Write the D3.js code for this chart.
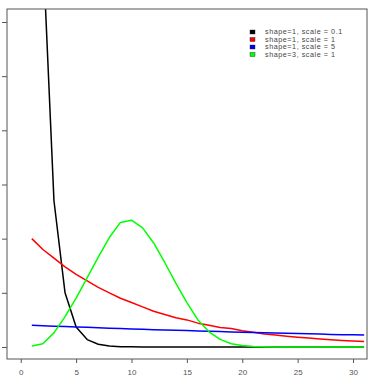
<!DOCTYPE html>
<html>
<head>
<meta charset="utf-8">
<script src="https://cdn.jsdelivr.net/npm/d3@7"></script>
<style>
    body { margin: 0; background: #fff; }
    svg { display: block; font-family: "Liberation Sans", Arial, sans-serif; }
</style>
</head>
<body>
<svg width="371" height="384"></svg>
<script>
// x positions of the evaluated points
var xs = d3.range(1, 32);

// values, one per x
var blackVals = [1.0, 0.368, 0.135, 0.050, 0.0184, 0.0068, 0.0025, 0.0009, 0.0003, 0.0001, 0.00005,
    0, 0, 0, 0, 0, 0, 0, 0, 0, 0, 0, 0, 0, 0, 0, 0, 0, 0, 0, 0];
var redVals = [0.100, 0.090, 0.082, 0.074, 0.067, 0.061, 0.055, 0.050, 0.045, 0.041, 0.037,
    0.033, 0.030, 0.027, 0.025, 0.022, 0.020, 0.018, 0.017, 0.015, 0.0135, 0.012, 0.011,
    0.010, 0.009, 0.0082, 0.0074, 0.0067, 0.006, 0.0055, 0.005];
var blueVals = [0.0200, 0.0196, 0.0192, 0.0188, 0.0185, 0.0181, 0.0177, 0.0174, 0.0170, 0.0167,
    0.0164, 0.0160, 0.0157, 0.0154, 0.0151, 0.0148, 0.0145, 0.0142, 0.0139, 0.0137, 0.0134,
    0.0131, 0.0129, 0.0126, 0.0124, 0.0121, 0.0119, 0.0116, 0.0114, 0.0112, 0.0110];
var greenVals = [0.001, 0.003, 0.013, 0.028, 0.045, 0.064, 0.083, 0.101, 0.115, 0.117, 0.110,
    0.096, 0.078, 0.059, 0.041, 0.025, 0.014, 0.007, 0.003, 0.0013, 0.0005, 0.0002,
    0, 0, 0, 0, 0, 0, 0, 0, 0];

var seriesNames = ["shape=1, scale = 0.1", "shape=1, scale = 1", "shape=1, scale = 5", "shape=3, scale = 1"];
var seriesColors = ["#000000", "#ff0000", "#0000ff", "#00ff00"];
var seriesVals = [blackVals, redVals, blueVals, greenVals];

var xTicks = [0, 5, 10, 15, 20, 25, 30];
var yTicks = [0, 0.05, 0.10, 0.15, 0.20, 0.25, 0.30];

var svg = d3.select("svg");

// plot box
var box = {left: 7, right: 367, top: 9, bottom: 359};

var x = d3.scaleLinear().domain([-1.24, 31.26]).range([box.left, box.right]);
var y = d3.scaleLinear().domain([-0.0111, 0.312]).range([box.bottom, box.top]);

svg.append("clipPath").attr("id", "clip")
    .append("rect")
    .attr("x", box.left).attr("y", box.top)
    .attr("width", box.right - box.left).attr("height", box.bottom - box.top);

//draw the lines
var line = d3.line()
    .x(function (d, i) { return x(xs[i]); })
    .y(function (d) { return y(d); });

var plotG = svg.append("g").attr("clip-path", "url(#clip)");

plotG.selectAll("path")
    .data(seriesVals)
    .enter().append("path")
    .attr("d", line)
    .attr("fill", "none")
    .attr("stroke", function (d, i) { return seriesColors[i]; })
    .attr("stroke-width", 1.5)
    .attr("stroke-linejoin", "round");

// box
svg.append("rect")
    .attr("x", box.left).attr("y", box.top)
    .attr("width", box.right - box.left).attr("height", box.bottom - box.top)
    .attr("fill", "none")
    .attr("stroke", "#555")
    .attr("stroke-width", 1);

// axes (no domain line, the box draws it)
var xAxis = svg.append("g")
    .attr("transform", "translate(0," + box.bottom + ")")
    .call(d3.axisBottom(x).tickValues(xTicks).tickSize(4).tickPadding(6));
var yAxis = svg.append("g")
    .attr("transform", "translate(" + box.left + ",0)")
    .call(d3.axisLeft(y).tickValues(yTicks).tickSize(5).tickFormat(""));

[xAxis, yAxis].forEach(function (g) {
    g.select(".domain").remove();
    g.selectAll("line").attr("stroke", "#555");
    g.selectAll("text")
        .attr("fill", "#555")
        .style("font-size", "8px")
        .style("font-family", "'Liberation Sans', Arial, sans-serif");
});

//legend
var legend = svg.append("g")
    .selectAll("g")
    .data(seriesNames)
    .enter().append("g")
    .attr("transform", function (d, i) {
        return "translate(250," + (32 + i * 7.5) + ")";
    });

legend.append("rect")
    .attr("x", 0).attr("y", -2)
    .attr("width", 5).attr("height", 4)
    .attr("fill", function (d, i) { return seriesColors[i]; })
    .attr("stroke", "#222")
    .attr("stroke-width", 0.4);

legend.append("text")
    .attr("x", 15)
    .attr("dy", "0.33em")
    .attr("fill", "#444")
    .style("font-size", "7.2px")
    .style("letter-spacing", "0.55px")
    .text(function (d) { return d; });
</script>
</body>
</html>
